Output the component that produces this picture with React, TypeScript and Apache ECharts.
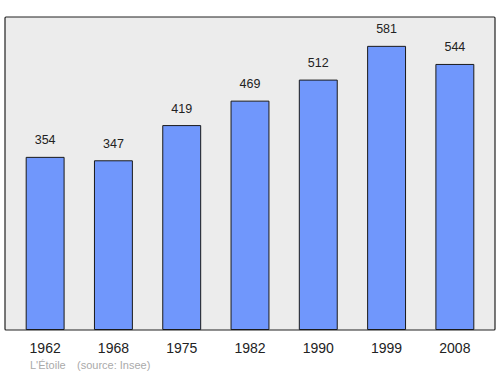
import React, { useEffect, useRef } from "react";
import * as echarts from "echarts";

const years = ["1962", "1968", "1975", "1982", "1990", "1999", "2008"];
const population = [354, 347, 419, 469, 512, 581, 544];
const footerPlace = "L'Étoile";
const footerSource = "(source: Insee)";

export default function App() {
  const ref = useRef<HTMLDivElement>(null);
  useEffect(() => {
    if (!ref.current) return;
    const chart = echarts.init(ref.current, null, { renderer: "svg" });
    chart.setOption({
      animation: false,
      backgroundColor: "#ffffff",
      graphic: [
        {
          type: "rect",
          z: -10,
          shape: { x: 5, y: 17, width: 490, height: 313, r: 1 },
          style: { fill: "#ececec", stroke: "#222222", lineWidth: 1.2 },
        },
        {
          type: "text",
          left: 30,
          top: 359,
          style: { text: footerPlace, fill: "#aaaaaa", fontSize: 11, fontFamily: "Liberation Sans, Arial, sans-serif" },
        },
        {
          type: "text",
          left: 77,
          top: 359,
          style: { text: footerSource, fill: "#aaaaaa", fontSize: 11, fontFamily: "Liberation Sans, Arial, sans-serif" },
        },
      ],
      grid: { left: 11, right: 11, top: 17, bottom: 44, containLabel: false },
      xAxis: {
        type: "category",
        data: years,
        boundaryGap: true,
        axisLine: { show: false },
        axisTick: { show: false },
        axisLabel: {
          color: "#222222",
          fontSize: 14,
          margin: 11,
          fontFamily: "Liberation Sans, Arial, sans-serif",
        },
      },
      yAxis: {
        type: "value",
        min: 0,
        max: 640,
        show: false,
        splitLine: { show: false },
      },
      series: [
        {
          type: "bar",
          data: population,
          barWidth: "57%",
          itemStyle: { color: "#7097fc", borderColor: "#1a1a1a", borderWidth: 1 },
          label: {
            show: true,
            position: "top",
            distance: 10,
            color: "#222222",
            fontSize: 12.5,
            fontFamily: "Liberation Sans, Arial, sans-serif",
          },
        },
      ],
    });
    return () => chart.dispose();
  }, []);
  return <div ref={ref} style={{ width: 500, height: 374, position: "absolute", left: 0, top: 0 }} />;
}
